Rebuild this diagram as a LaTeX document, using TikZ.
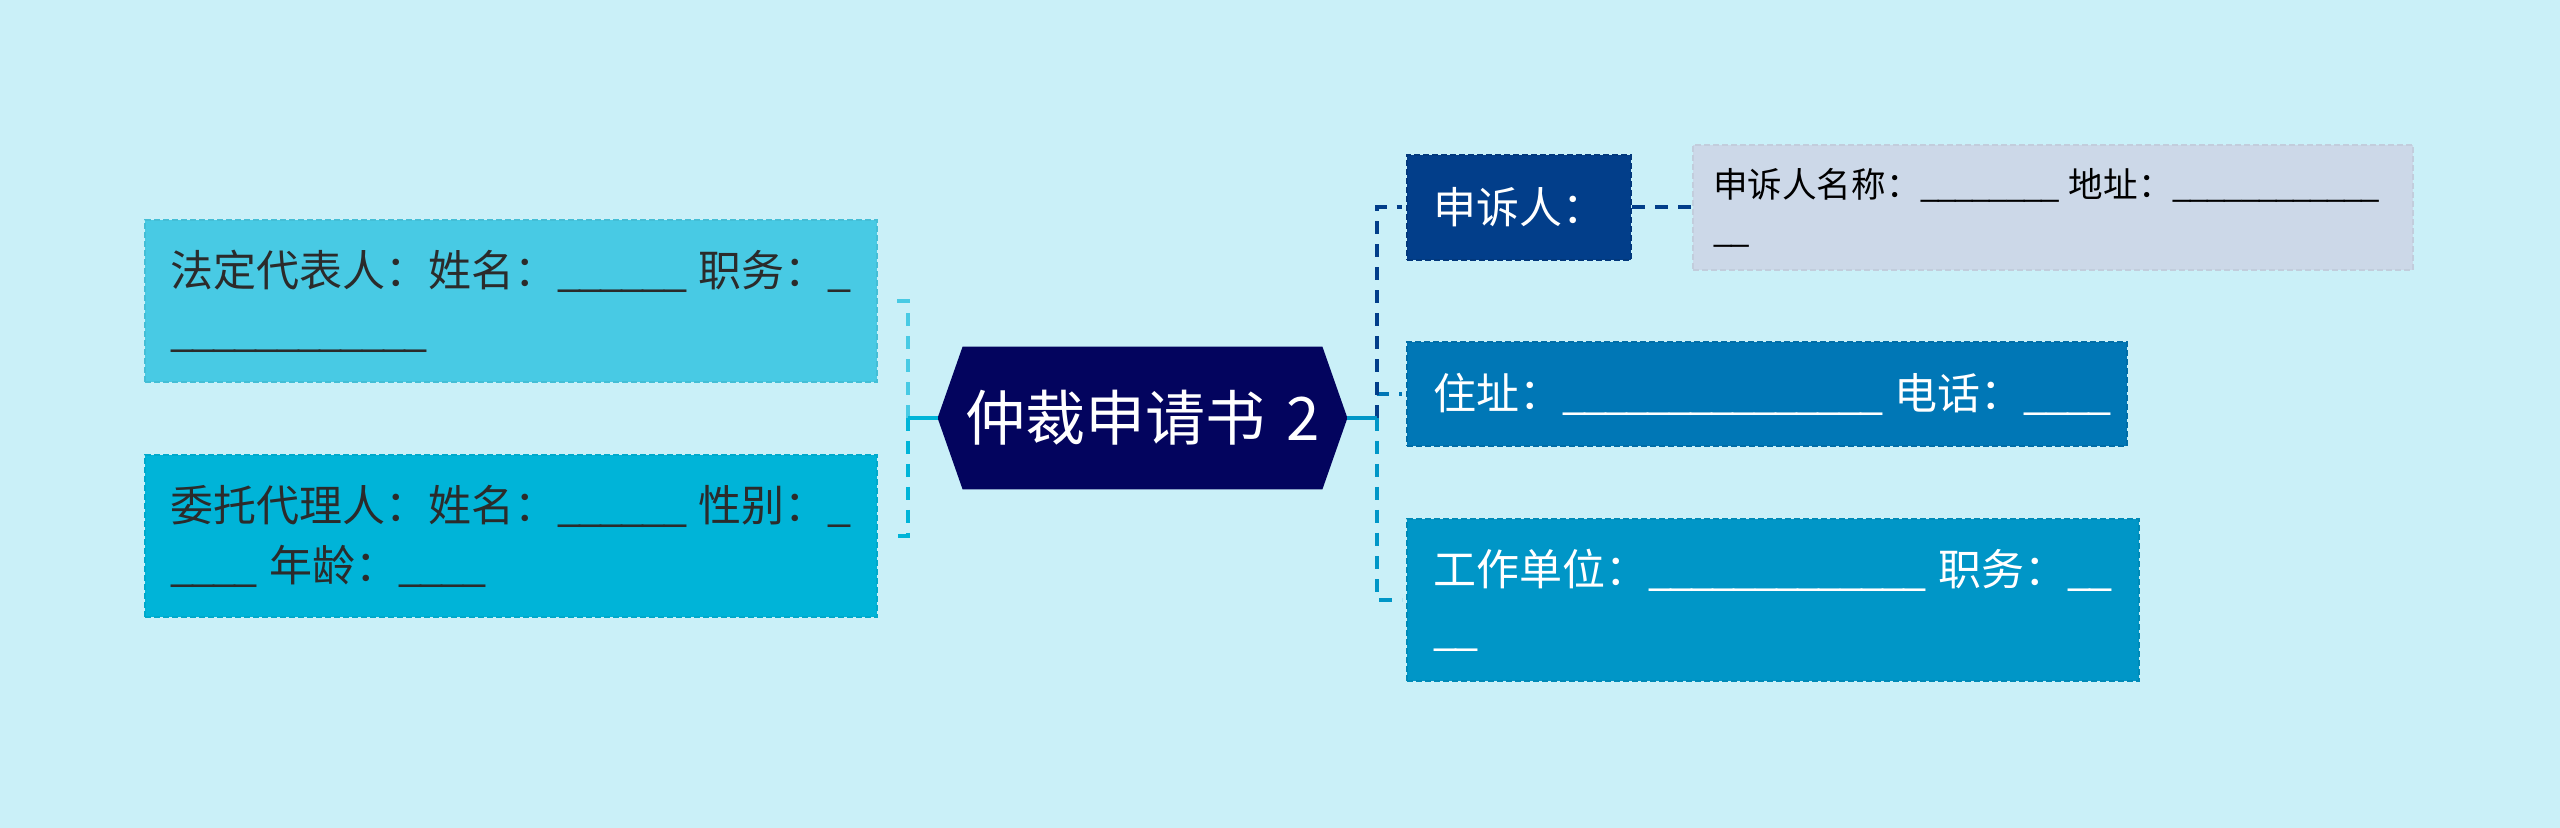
\documentclass[tikz,border=0pt]{standalone}
\usepackage{fontspec}
\setmainfont{Noto Sans CJK SC}
\usetikzlibrary{backgrounds}
\definecolor{bgc}{HTML}{CAF0F8}
\definecolor{cA}{HTML}{48CAE4}
\definecolor{cB}{HTML}{00B4D8}
\definecolor{cC}{HTML}{0096C7}
\definecolor{cD}{HTML}{0077B6}
\definecolor{cE}{HTML}{023E8A}
\definecolor{cF}{HTML}{03045E}
\definecolor{cG}{HTML}{CCD8E8}
\definecolor{tdark}{HTML}{2B2B2B}
\newcommand{\us}{\_\kern-0.065em}
\begin{document}
\begin{tikzpicture}[x=0.5pt,y=-0.5pt,
  bodyfont/.style={font=\fontsize{21.5pt}{30pt}\selectfont},
  smallfont/.style={font=\fontsize{17.3pt}{22.5pt}\selectfont},
  box/.style={rectangle, inner ysep=0pt, align=left, line width=1pt, dash pattern=on 3pt off 1.5pt},
  leftbox/.style={box, bodyfont, text=tdark, minimum width=366pt, minimum height=81pt, text width=341pt, inner xsep=12.5pt},
  rightbox/.style={box, bodyfont, text=white, inner xsep=13pt},
  branch/.style={line width=2pt, dash pattern=on 6.5pt off 5pt},
  mainline/.style={line width=2.2pt}
]
\useasboundingbox (0,0) rectangle (2560,828);
% root
\node[minimum width=204.5pt, minimum height=71pt, inner sep=0pt, text=white,
      font=\fontsize{30pt}{36pt}\selectfont] (root) at (1142.5,418) {仲裁申请书\hspace{0.12em} 2};
% left nodes
\node[leftbox, fill=cA, draw=cA!94!black] (l1) at (511,301)
  {法定代表人：姓名：\us\us\us\us\us\us~职务：\us\\\us\us\us\us\us\us\us\us\us\us\us\us};
\node[leftbox, fill=cB, draw=cB!94!black] (l2) at (511,536)
  {委托代理人：姓名：\us\us\us\us\us\us~性别：\us\\\us\us\us\us~年龄：\us\us\us\us};
% right nodes
\node[box, bodyfont, text=white, align=center, fill=cE, draw=cE!90!black,
      minimum width=112pt, minimum height=52.5pt, inner sep=0pt] (r1) at (1519,207.5) {申诉人：};
\node[box, smallfont, text=black, fill=cG, draw=cG!95!black,
      minimum width=360pt, minimum height=62.5pt, text width=340pt, inner xsep=10pt] (r1a) at (2053,207.5)
  {申诉人名称：\us\us\us\us\us\us\us\us~地址：\us\us\us\us\us\us\us\us\us\us\us\us\\\us\us};
\node[rightbox, fill=cD, draw=cD!92!black, minimum width=360pt, minimum height=52pt, text width=334pt] (r2) at (1767,394)
  {住址：\us\us\us\us\us\us\us\us\us\us\us\us\us\us\us~电话：\us\us\us\us};
\node[rightbox, fill=cC, draw=cC!92!black, minimum width=366pt, minimum height=81pt, text width=340pt] (r3) at (1773,600)
  {工作单位：\us\us\us\us\us\us\us\us\us\us\us\us\us~职务：\us\us\\\us\us};
\coordinate (jl) at (908,418);
\coordinate (jr) at (1377,418);
\begin{scope}[on background layer]
  \fill[bgc] (0,0) rectangle (2560,828);
  \fill[cF] (root.west) -- ([xshift=12.5pt]root.north west) -- ([xshift=-12.5pt]root.north east)
    -- (root.east) -- ([xshift=-12.5pt]root.south east) -- ([xshift=12.5pt]root.south west) -- cycle;
  % left connectors
  \draw[branch, draw=cB, shorten >=8pt] (jl) |- (l2.east);
  \draw[branch, draw=cA, shorten >=8pt] (jl) |- (l1.east);
  \draw[mainline, draw=cB] (root.west) -- (jl);
  % right connectors
  \draw[branch, draw=cC, shorten >=2pt] (jr) |- (r3.west);
  \draw[branch, draw=cD, shorten >=2pt] (jr) |- (r2.west);
  \draw[branch, draw=cE, shorten >=2pt] (jr) |- (r1.west);
  \draw[mainline, draw=cC] (root.east) -- (jr);
  \draw[branch, draw=cE] (r1.east) -- (r1a.west);
\end{scope}
\end{tikzpicture}
\end{document}
